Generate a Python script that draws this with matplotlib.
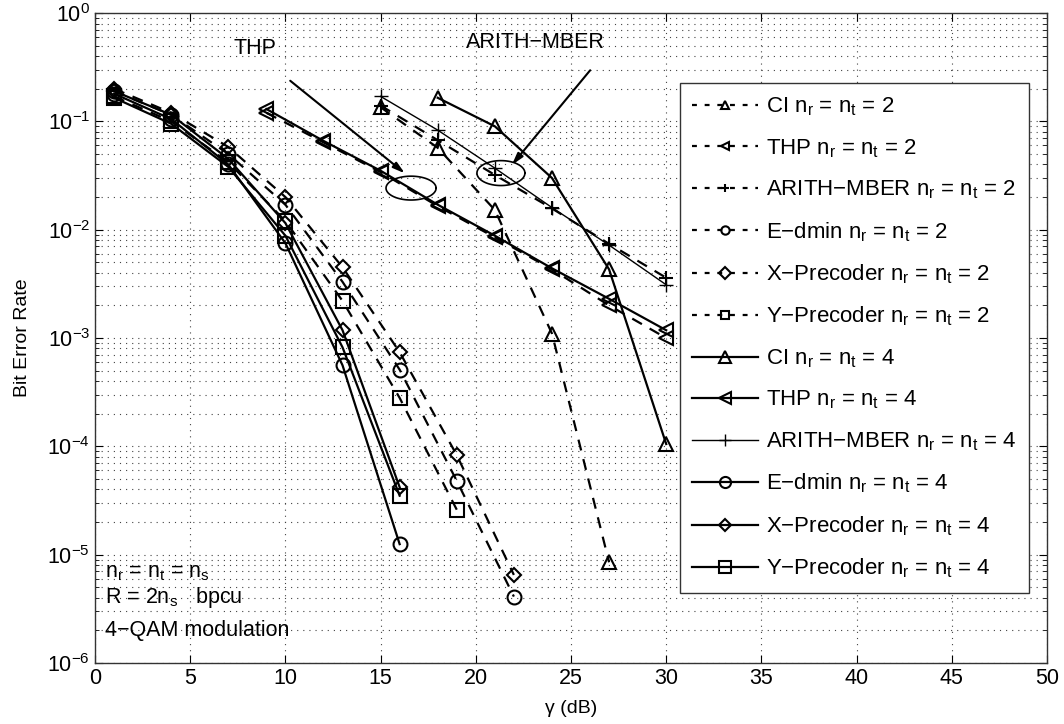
import matplotlib
matplotlib.use('Agg')
import matplotlib.pyplot as plt, numpy as np
from matplotlib.lines import Line2D

plt.rcParams['font.family']=['Liberation Sans','DejaVu Sans']
plt.rcParams['mathtext.fontset']='custom'; plt.rcParams['mathtext.rm']='Liberation Sans'; plt.rcParams['mathtext.it']='Liberation Sans'

# SNR grids (dB)
snr_low=[1,4,7,10,13,16,19,22]
snr_thp=[9,12,15,18,21,24,27,30]
snr_arith=[15,18,21,24,27,30]
snr_ci2=[15,18,21,24,27]
snr_ci4=[18,21,24,27,30]

# n_r = n_t = 2 (dashed)
ci_2=[0.135,0.057,0.0152,1.1e-3,8.5e-6]
thp_2=[0.12,0.064,0.034,0.0165,0.0085,0.0043,0.0020,0.00100]
arith_2=[0.14,0.067,0.032,0.0157,0.0074,0.0036]
edmin_2=[0.19,0.115,0.050,0.017,0.0033,5.1e-4,4.8e-5,4.1e-6]
xpre_2=[0.20,0.12,0.058,0.020,0.0045,7.4e-4,8.3e-5,6.5e-6]
ypre_2=[0.17,0.10,0.042,0.012,0.0022,2.8e-4,2.6e-5]

# n_r = n_t = 4 (solid)
ci_4=[0.165,0.090,0.030,4.3e-3,1.05e-4]
thp_4=[0.13,0.066,0.035,0.017,0.0088,0.0044,0.0023,0.00118]
arith_4=[0.17,0.083,0.037,0.016,0.0072,0.0031]
edmin_4=[0.18,0.105,0.040,0.0075,5.6e-4,1.25e-5]
xpre_4=[0.19,0.115,0.045,0.0115,0.00118,4.2e-5]
ypre_4=[0.165,0.095,0.038,0.0088,8.2e-4,3.5e-5]

names=['CI','THP','ARITH\u2212MBER','E\u2212dmin','X\u2212Precoder','Y\u2212Precoder']
markers=['^','<','+','o','D','s']

def lbl(name,n): return name+r' $\mathregular{n_r}$ = $\mathregular{n_t}$ = '+str(n)

def ring(ax,cx,cy,w,h):
    t=np.linspace(0,2*np.pi,120); ax.plot(cx+w/2*np.cos(t),cy*10**(h/2*np.sin(t)),color='k',lw=1.2,zorder=4)

fig=plt.figure(figsize=(10.64,7.24),dpi=100,facecolor='white')
ax=fig.add_axes([0.0893,0.0843,0.8947,0.8977])

series2=[(snr_ci2,ci_2),(snr_thp,thp_2),(snr_arith,arith_2),(snr_low,edmin_2),(snr_low,xpre_2),(snr_low[:7],ypre_2)]
series4=[(snr_ci4,ci_4),(snr_thp,thp_4),(snr_arith,arith_4),(snr_low[:6],edmin_4),(snr_low[:6],xpre_4),(snr_low[:6],ypre_4)]
handles=[]
for (x,y),m,nm in zip(series2,markers,names):
    ms=10 if m!='D' else 7.5
    ax.plot(x,y,ls=(0,(5,4)),color='k',lw=1.6,marker=m,ms=ms,mfc='none',mew=1.5,zorder=3)
    handles.append(Line2D([],[],ls=(0,(2.2,3.5)),color='k',lw=1.6,marker=m,ms=6,mfc='none',mew=1.5,label=lbl(nm,2)))
for (x,y),m,nm in zip(series4,markers,names):
    lw=1.0 if m=='+' else 1.6
    ms=10 if m!='D' else 7.5
    ax.plot(x,y,ls='-',color='k',lw=lw,marker=m,ms=ms,mfc='none',mew=1.5 if m!='+' else 1.0,zorder=3)
    handles.append(Line2D([],[],ls='-',color='k',lw=lw,marker=m,ms=8 if m!='D' else 6,mfc='none',mew=1.5 if m!='+' else 1.0,label=lbl(nm,4)))

ax.set_yscale('log'); ax.set_xlim(0,50); ax.set_ylim(1e-6,1)
ax.set_xticks(np.arange(0,51,5))
ax.grid(True,which='major',ls=(0,(1,4.5)),color='#444444',lw=0.8)
ax.grid(True,which='minor',axis='y',ls=(0,(1,4.5)),color='#444444',lw=0.8)
ax.tick_params(which='both',direction='in',top=True,right=True,labelsize=15.5,length=6)
ax.tick_params(which='minor',length=3)
for s in ax.spines.values(): s.set_color('#333333'); s.set_linewidth(1.0)
ax.set_xlabel('\u03b3 (dB)',fontsize=14,labelpad=8)
ax.set_ylabel('Bit Error Rate',fontsize=14,labelpad=12)

# annotations
ax.text(7.25,0.475,'THP',fontsize=15.5,va='center')
ax.text(19.5,0.53,'ARITH\u2212MBER',fontsize=15.5,va='center')
ax.annotate('',xy=(16.39,0.0319),xytext=(10.14,0.246),arrowprops=dict(arrowstyle='-|>,head_length=0.7,head_width=0.2',color='k',lw=1.5))
ax.annotate('',xy=(21.8,0.0378),xytext=(26.1,0.31),arrowprops=dict(arrowstyle='-|>,head_length=0.7,head_width=0.2',color='k',lw=1.5))
ring(ax,16.6,0.0242,2.63,0.22); ring(ax,21.32,0.0333,2.52,0.23)

ax.text(0.5,6.9e-6,r'$\mathregular{n_r}$ = $\mathregular{n_t}$ = $\mathregular{n_s}$',fontsize=15.5,va='center')
ax.text(0.5,3.98e-6,r'R = 2$\mathregular{n_s}$   bpcu',fontsize=15.5,va='center')
ax.text(0.5,2.0e-6,'4\u2212QAM modulation',fontsize=15.5,va='center')

leg=ax.legend(handles=handles,loc='upper left',bbox_to_anchor=(0.614,0.892),borderaxespad=0,fontsize=16,handlelength=3.0,handletextpad=0.35,labelspacing=0.85,borderpad=0.55,fancybox=False,framealpha=1,edgecolor='#333333')
leg.get_frame().set_linewidth(1.0)
fig.savefig('out.png',dpi=100,facecolor='white')
